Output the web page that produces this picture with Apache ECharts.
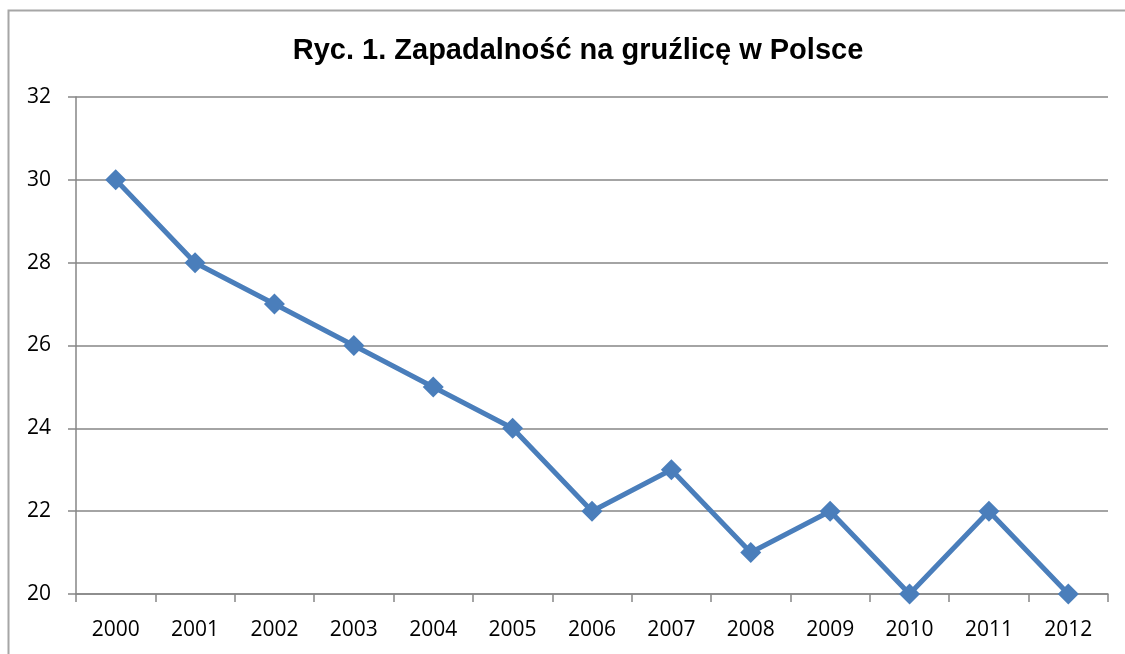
<!DOCTYPE html>
<html>
<head>
<meta charset="utf-8">
<script src="https://cdn.jsdelivr.net/npm/echarts@6/dist/echarts.min.js"></script>
<style>
  html, body { margin: 0; padding: 0; background: #fff; }
  #chart { width: 1125px; height: 654px; }
</style>
</head>
<body>
<div id="chart"></div>
<script>
var years = ['2000', '2001', '2002', '2003', '2004', '2005', '2006', '2007', '2008', '2009', '2010', '2011', '2012'];
var cases = [30, 28, 27, 26, 25, 24, 22, 23, 21, 22, 20, 22, 20];
var titleText = 'Ryc. 1. Zapadalność na gruźlicę w Polsce';

var myChart = echarts.init(document.getElementById('chart'));
var option = {
    backgroundColor: '#ffffff',
    animation: false,
    title: {
        text: titleText,
        left: 573,
        top: 31,
        textAlign: 'center',
        textStyle: {
            fontFamily: 'Liberation Sans',
            fontWeight: 'bold',
            fontSize: 29,
            color: '#000'
        }
    },
    graphic: [{
        type: 'rect',
        shape: { x: 8.5, y: 10.5, width: 1300, height: 800 },
        style: { fill: 'none', stroke: '#a6a6a6', lineWidth: 2 },
        silent: true
    }],
    grid: {
        left: 76,
        right: 17,
        top: 97,
        bottom: 60
    },
    xAxis: {
        type: 'category',
        data: years,
        boundaryGap: true,
        axisLine: { lineStyle: { color: '#868686', width: 1.5 } },
        axisTick: { show: true, length: 8, lineStyle: { color: '#868686', width: 1.5 } },
        axisLabel: {
            margin: 26,
            fontFamily: 'Open Sans',
            fontSize: 21,
            color: '#000'
        },
        splitLine: { show: false }
    },
    yAxis: {
        type: 'value',
        min: 20,
        max: 32,
        interval: 2,
        axisLine: { show: true, lineStyle: { color: '#868686', width: 1.5 } },
        axisTick: { show: true, length: 8, lineStyle: { color: '#868686', width: 1.5 } },
        axisLabel: {
            margin: 25,
            fontFamily: 'Open Sans',
            fontSize: 21,
            color: '#000'
        },
        splitLine: { show: true, lineStyle: { color: '#868686', width: 1.5 } }
    },
    series: [{
        type: 'line',
        data: cases,
        symbol: 'diamond',
        symbolSize: 21,
        lineStyle: { color: '#4a7ebb', width: 5 },
        itemStyle: { color: '#4a7ebb' }
    }]
};
myChart.setOption(option);
</script>
</body>
</html>
